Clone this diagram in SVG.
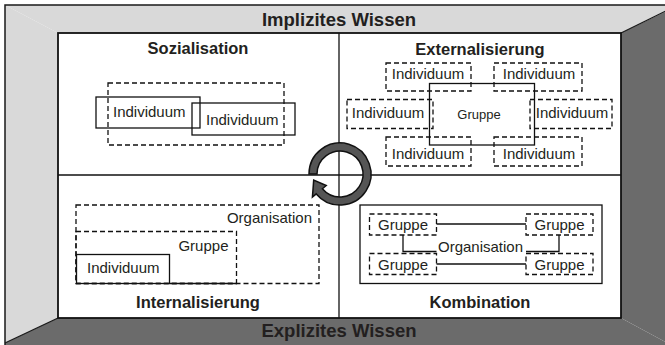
<svg xmlns="http://www.w3.org/2000/svg" width="665" height="345" viewBox="0 0 665 345">
  <style>
    .title { font-family: "Liberation Sans", Arial, sans-serif; font-weight: bold; font-size: 16.5px; fill: #231f20; text-anchor: middle; }
    .band { font-family: "Liberation Sans", Arial, sans-serif; font-weight: bold; font-size: 18.5px; fill: #231f20; text-anchor: middle; }
    .lbl { font-family: "Liberation Sans", Arial, sans-serif; font-size: 15px; fill: #231f20; }
    .small { font-family: "Liberation Sans", Arial, sans-serif; font-size: 13px; fill: #231f20; }
    .solid { fill: none; stroke: #111; stroke-width: 1.3; }
    .dash { fill: none; stroke: #111; stroke-width: 1.3; stroke-dasharray: 5 3; }
    .line { fill: none; stroke: #111; stroke-width: 1.3; }
  </style>

  <rect x="0" y="0" width="665" height="345" fill="#ffffff"/>

  <!-- frame: light gray top and left faces, dark gray right and bottom faces -->
  <g id="frame">
    <polygon points="5,5 680,5 621,33 58,33" fill="#d9d9d9"/>
    <polygon points="5,5 58,33 58,318 5,343" fill="#d9d9d9"/>
    <polygon points="621,33 680,5 680,350 621,318" fill="#6b6b6b"/>
    <polygon points="58,318 621,318 680,350 5,350 5,343" fill="#6b6b6b"/>
    <polyline points="5,350 5,5 680,5" fill="none" stroke="#1a1a1a" stroke-width="1.5"/>
    <line x1="621" y1="33" x2="680" y2="4" stroke="#1a1a1a" stroke-width="1.3"/>
    <line x1="58" y1="318" x2="5" y2="343" stroke="#1a1a1a" stroke-width="1.3"/>
    <rect x="58" y="33" width="563" height="285" fill="#ffffff" stroke="#111" stroke-width="1.8"/>
    <line x1="339" y1="33" x2="339" y2="318" stroke="#111" stroke-width="1.3"/>
    <line x1="58" y1="175" x2="621" y2="175" stroke="#111" stroke-width="1.3"/>
    <text class="band" x="339" y="26">Implizites Wissen</text>
    <text class="band" x="339" y="337">Explizites Wissen</text>
  </g>

  <!-- quadrant 1 -->
  <g id="sozialisation">
    <text class="title" x="198" y="54">Sozialisation</text>
    <rect class="dash" x="108" y="83" width="176" height="62"/>
    <rect class="solid" x="96" y="97" width="104" height="31"/>
    <rect class="solid" x="192" y="103" width="103" height="32"/>
    <text class="lbl" x="113" y="117">Individuum</text>
    <text class="lbl" x="206" y="125">Individuum</text>
  </g>

  <!-- quadrant 2 -->
  <g id="externalisierung">
    <text class="title" x="480" y="55">Externalisierung</text>
    <rect class="solid" x="429.5" y="83.5" width="105" height="61.5"/>
    <text class="small" x="479" y="119" text-anchor="middle">Gruppe</text>
    <rect class="dash" x="386" y="63" width="85" height="28"/>
    <rect class="dash" x="494" y="63" width="88" height="28"/>
    <rect class="dash" x="347" y="99.5" width="86" height="29"/>
    <rect class="dash" x="530" y="99.5" width="82" height="29"/>
    <rect class="dash" x="386" y="137" width="85" height="29"/>
    <rect class="dash" x="494" y="137" width="88" height="29"/>
    <text class="lbl" x="428" y="79" text-anchor="middle">Individuum</text>
    <text class="lbl" x="539" y="79" text-anchor="middle">Individuum</text>
    <text class="lbl" x="388" y="117.5" text-anchor="middle">Individuum</text>
    <text class="lbl" x="572" y="117.5" text-anchor="middle">Individuum</text>
    <text class="lbl" x="428" y="158.5" text-anchor="middle">Individuum</text>
    <text class="lbl" x="539" y="158.5" text-anchor="middle">Individuum</text>
  </g>

  <!-- quadrant 3 -->
  <g id="internalisierung">
    <text class="title" x="198" y="308">Internalisierung</text>
    <rect class="dash" x="76" y="205" width="243" height="78.5"/>
    <rect class="dash" x="76" y="231.5" width="160.5" height="52"/>
    <rect class="solid" x="76.5" y="254.5" width="93" height="29"/>
    <line class="line" x1="169.5" y1="283.5" x2="236.5" y2="283.5"/>
    <text class="lbl" x="312" y="223" text-anchor="end">Organisation</text>
    <text class="lbl" x="228.5" y="250.5" text-anchor="end">Gruppe</text>
    <text class="lbl" x="87" y="272.5">Individuum</text>
  </g>

  <!-- quadrant 4 -->
  <g id="kombination">
    <text class="title" x="480" y="308">Kombination</text>
    <rect class="solid" x="360" y="205" width="242" height="78.5"/>
    <rect class="dash" x="369.5" y="214" width="67" height="21"/>
    <rect class="dash" x="526" y="214" width="67" height="21"/>
    <rect class="dash" x="369.5" y="253.5" width="67" height="21"/>
    <rect class="dash" x="526" y="253.5" width="67" height="21"/>
    <text class="lbl" x="403" y="230" text-anchor="middle">Gruppe</text>
    <text class="lbl" x="559.5" y="230" text-anchor="middle">Gruppe</text>
    <text class="lbl" x="403" y="269.5" text-anchor="middle">Gruppe</text>
    <text class="lbl" x="559.5" y="269.5" text-anchor="middle">Gruppe</text>
    <text class="lbl" x="480.5" y="251.5" text-anchor="middle">Organisation</text>
  </g>

  <!-- connectors between the groups in Kombination -->
  <g id="connectors">
    <line class="line" x1="436.5" y1="224" x2="526" y2="224"/>
    <line class="line" x1="436.5" y1="264" x2="526" y2="264"/>
    <polyline class="line" points="403,235 403,251.5 436.5,251.5"/>
    <polyline class="line" points="559,235 559,251.5 526,251.5"/>
  </g>

  <!-- spiral cycle arrow -->
  <g id="cycle">
    <path d="M309,174 A31,31 0 1 1 316.25,193.93 L312.42,197.14 L313.7,180.1 L326.21,185.57 L322.38,188.78 A23,23 0 1 0 317,174 Z" fill="#555555" stroke="#111" stroke-width="1.5" stroke-linejoin="miter"/>
  </g>
</svg>
